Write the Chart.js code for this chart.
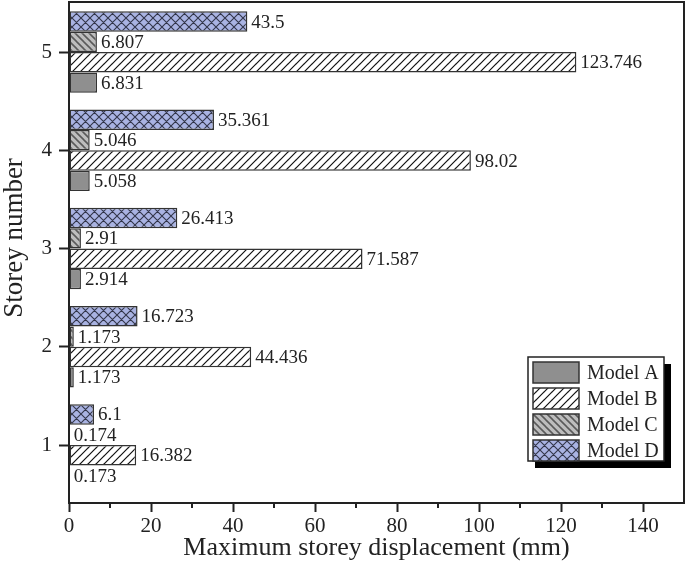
<!DOCTYPE html>
<html><head><meta charset="utf-8">
<script src="https://cdn.jsdelivr.net/npm/chart.js@4.4.1/dist/chart.umd.min.js"></script>
<style>html,body{margin:0;padding:0;background:#fff;} canvas{display:block;}</style>
</head><body>
<canvas id="c" width="685" height="578"></canvas>
<script>
const storeys = [1, 2, 3, 4, 5];
const modelA = [0.173, 1.173, 2.914, 5.058, 6.831];
const modelB = [16.382, 44.436, 71.587, 98.02, 123.746];
const modelC = [0.174, 1.173, 2.91, 5.046, 6.807];
const modelD = [6.1, 16.723, 26.413, 35.361, 43.5];
const seriesNames = ['Model A', 'Model B', 'Model C', 'Model D'];
const xTicks = [0, 20, 40, 60, 80, 100, 120, 140];
const xMinorTicks = [10, 30, 50, 70, 90, 110, 130];
const xTitle = 'Maximum storey displacement (mm)';
const yTitle = 'Storey number';

const FONT = "'Liberation Serif', 'Times New Roman', serif";
const INK = '#222';

function makePattern(bg, dirs, s, lw, color) {
  const c = document.createElement('canvas');
  c.width = s; c.height = s;
  const g = c.getContext('2d');
  g.fillStyle = bg; g.fillRect(0, 0, s, s);
  g.strokeStyle = color; g.lineWidth = lw; g.lineCap = 'square';
  g.beginPath();
  for (const d of dirs) {
    for (const o of [-s, 0, s]) {
      if (d === '/') { g.moveTo(o, s); g.lineTo(o + s, 0); }
      else { g.moveTo(o, 0); g.lineTo(o + s, s); }
    }
  }
  g.stroke();
  return g.createPattern(c, 'repeat');
}

const fills = [
  '#8f8f8f',
  makePattern('#ffffff', ['/'], 8, 1.2, '#111'),
  makePattern('#bdbdbd', ['\\'], 7, 1.6, '#5a5a5a'),
  makePattern('#a9b3e2', ['/', '\\'], 9, 1.1, '#33364a')
];
const seriesData = [modelA, modelB, modelC, modelD];

// Datasets listed top-to-bottom within a group (D on top, A at bottom)
const order = [3, 2, 1, 0];
const datasets = order.map(k => ({
  label: seriesNames[k],
  data: storeys.map((s, i) => ({ x: seriesData[k][i], y: s })),
  backgroundColor: fills[k],
  borderColor: '#333',
  borderWidth: 1.5,
  borderSkipped: false,
  categoryPercentage: 0.83,
  barPercentage: 1.0
}));

const framePlugin = {
  id: 'frame',
  afterDatasetsDraw(chart) {
    const ctx = chart.ctx;
    ctx.save();
    ctx.font = '19px ' + FONT;
    ctx.fillStyle = INK;
    ctx.textBaseline = 'middle';
    ctx.textAlign = 'left';
    chart.data.datasets.forEach((ds, di) => {
      const meta = chart.getDatasetMeta(di);
      meta.data.forEach((el, j) => {
        ctx.fillText(String(ds.data[j].x), el.x + 4, el.y + 1);
      });
    });
    ctx.restore();
  },
  afterDraw(chart) {
    const ctx = chart.ctx;
    const a = chart.chartArea;
    const xs = chart.scales.x;
    ctx.save();
    ctx.strokeStyle = INK;
    ctx.lineWidth = 2;
    ctx.beginPath();
    ctx.moveTo(a.left, a.top); ctx.lineTo(a.right, a.top); ctx.lineTo(a.right, a.bottom);
    ctx.stroke();
    ctx.beginPath();
    xMinorTicks.forEach(v => {
      const px = Math.round(xs.getPixelForValue(v));
      ctx.moveTo(px, a.bottom); ctx.lineTo(px, a.bottom + 5);
    });
    ctx.stroke();
    ctx.font = '27px ' + FONT;
    ctx.fillStyle = INK;
    ctx.textAlign = 'center';
    ctx.textBaseline = 'middle';
    ctx.translate(15, 238);
    ctx.rotate(-Math.PI / 2);
    ctx.fillText(yTitle, 0, 0);
    ctx.restore();

    ctx.save();
    const bx = 528, by = 357, bw = 136, bh = 104;
    ctx.fillStyle = '#000';
    ctx.fillRect(bx + 7, by + 7, bw, bh);
    ctx.fillStyle = '#fff';
    ctx.fillRect(bx, by, bw, bh);
    ctx.strokeStyle = INK; ctx.lineWidth = 1.5;
    ctx.strokeRect(bx, by, bw, bh);
    ctx.font = '20px ' + FONT;
    ctx.textBaseline = 'middle';
    ctx.textAlign = 'left';
    seriesNames.forEach((name, k) => {
      const ry = by + 5 + k * 26;
      ctx.fillStyle = fills[k];
      ctx.fillRect(bx + 5, ry, 46, 21);
      ctx.strokeStyle = '#333'; ctx.lineWidth = 1.5;
      ctx.strokeRect(bx + 5, ry, 46, 21);
      ctx.fillStyle = INK;
      ctx.fillText(name, bx + 59, ry + 11.5);
    });
    ctx.restore();
  }
};

Chart.defaults.font.family = FONT;
Chart.defaults.color = INK;

new Chart(document.getElementById('c'), {
  type: 'bar',
  data: { datasets },
  options: {
    indexAxis: 'y',
    responsive: false,
    animation: false,
    layout: { padding: { top: 2, right: 1, left: 0, bottom: 0 } },
    plugins: { legend: { display: false }, tooltip: { enabled: false } },
    scales: {
      x: {
        type: 'linear',
        min: 0, max: 150,
        ticks: { stepSize: 20, font: { size: 21 }, color: INK, padding: 2, maxRotation: 0 },
        afterBuildTicks: s => { s.ticks = xTicks.map(v => ({ value: v })); },
        afterFit: s => { s.height = 75; s.paddingLeft = 0; s.paddingRight = 0; s.paddingTop = 0; s.paddingBottom = 0; },
        grid: { drawOnChartArea: false, drawTicks: true, tickLength: 9, tickColor: INK, tickWidth: 2, offset: false },
        offset: false,
        border: { display: true, color: INK, width: 2 },
        title: { display: true, text: xTitle, font: { size: 26 }, color: INK, padding: { top: 0, bottom: 14 } }
      },
      y: {
        type: 'linear',
        min: 0.41, max: 5.51,
        offset: false,
        ticks: { font: { size: 21 }, color: INK, padding: 7, callback: v => String(v) },
        afterBuildTicks: s => { s.ticks = storeys.map(v => ({ value: v })); },
        afterFit: s => { s.width = 69; s.paddingTop = 0; s.paddingBottom = 0; s.paddingLeft = 0; s.paddingRight = 0; },
        grid: { drawOnChartArea: false, drawTicks: true, tickLength: 10, tickColor: INK, tickWidth: 2, offset: false },
        border: { display: true, color: INK, width: 2 },
        title: { display: false }
      }
    }
  },
  plugins: [framePlugin]
});
</script>
</body></html>
